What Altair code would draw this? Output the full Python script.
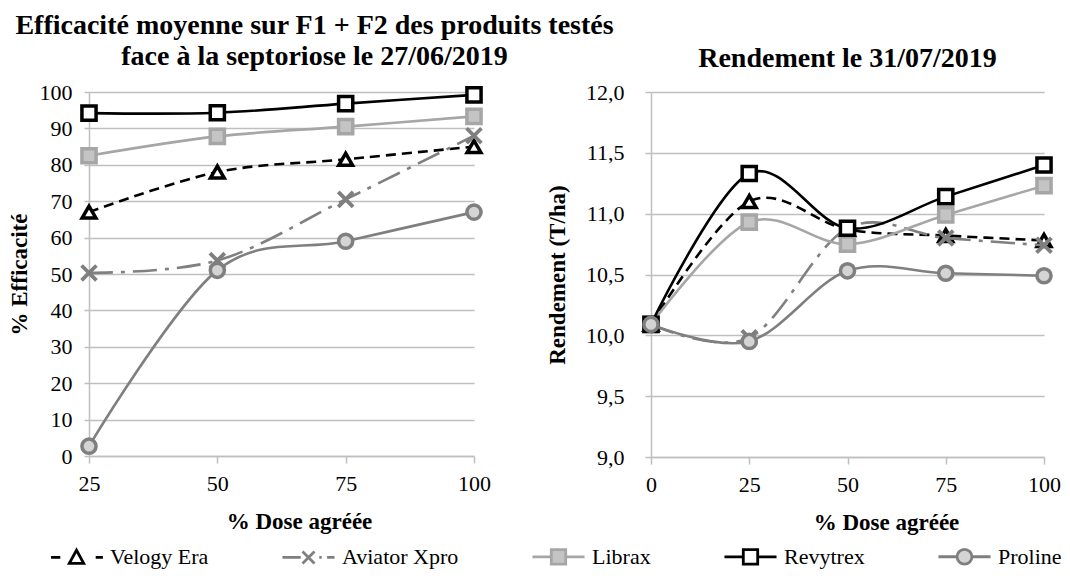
import altair as alt
import pandas as pd

# ---------------- data ----------------
series = ["Velogy Era", "Aviator Xpro", "Librax", "Revytrex", "Proline"]

dose_eff = [25, 50, 75, 100]
eff_velogy = [67.0, 78.0, 81.5, 85.0]
eff_aviator = [50.3, 53.7, 70.5, 88.0]
eff_librax = [82.5, 87.8, 90.5, 93.3]
eff_revytrex = [94.2, 94.3, 96.8, 99.2]
eff_proline = [2.7, 51.0, 59.0, 67.0]

dose_rdt = [0, 25, 50, 75, 100]
rdt_velogy = [10.09, 11.10, 10.87, 10.82, 10.78]
rdt_aviator = [10.09, 9.98, 10.88, 10.80, 10.74]
rdt_librax = [10.09, 10.93, 10.75, 10.99, 11.23]
rdt_revytrex = [10.09, 11.33, 10.88, 11.14, 11.40]
rdt_proline = [10.09, 9.95, 10.53, 10.51, 10.49]

eff_ticks = list(range(0, 101, 10))
rdt_ticks = [9.0, 9.5, 10.0, 10.5, 11.0, 11.5, 12.0]

eff_values = [eff_velogy, eff_aviator, eff_librax, eff_revytrex, eff_proline]
rdt_values = [rdt_velogy, rdt_aviator, rdt_librax, rdt_revytrex, rdt_proline]

df_eff = pd.DataFrame(
    [{"series": s, "dose": d, "value": v}
     for s, vals in zip(series, eff_values) for d, v in zip(dose_eff, vals)]
)
df_rdt = pd.DataFrame(
    [{"series": s, "dose": d, "value": v}
     for s, vals in zip(series, rdt_values) for d, v in zip(dose_rdt, vals)]
)
df_leg = pd.DataFrame({"series": series})

# ---------------- styles ----------------
FONT = "Liberation Serif"
X_PATH = "M-1,-1L1,1M-1,1L1,-1"
styles = {
    "Velogy Era": dict(line="black", dash=[10, 6], shape="triangle-up", fill="white",
                       mstroke="black", msw=3.5, size=190),
    "Aviator Xpro": dict(line="#808080", dash=[24, 8, 4, 8], shape=X_PATH, fill="transparent",
                         mstroke="#7F7F7F", msw=3.8, size=220),
    "Librax": dict(line="#A6A6A6", dash=None, shape="square", fill="#C4C4C4",
                   mstroke="#A6A6A6", msw=3.5, size=200),
    "Revytrex": dict(line="black", dash=None, shape="square", fill="white",
                     mstroke="black", msw=3.5, size=200),
    "Proline": dict(line="#7F7F7F", dash=None, shape="circle", fill="#D4D4D4",
                    mstroke="#7F7F7F", msw=3.5, size=200),
}

# legend symbols: 1 unit = 12 px (symbolSize 576)
leg_paths = [
    "M-2.12,0L-1.35,0M1.6,0L2.2,0M0,-0.6L0.6,0.5L-0.6,0.5Z",
    "M-2.17,0L-0.65,0M0.9,0L1.1,0M1.55,0L2.17,0M-0.5,-0.5L0.5,0.5M-0.5,0.5L0.5,-0.5",
    "M-2.17,0L-0.6,0M0.6,0L2.17,0M-0.6,-0.6L0.6,-0.6L0.6,0.6L-0.6,0.6Z",
    "M-2.17,0L-0.6,0M0.6,0L2.17,0M-0.6,-0.6L0.6,-0.6L0.6,0.6L-0.6,0.6Z",
    "M-2.17,0L-0.62,0M0.62,0L2.17,0M0.62,0A0.62,0.62 0 1,1 -0.62,0A0.62,0.62 0 1,1 0.62,0Z",
]
leg_stroke = ["black", "#7F7F7F", "#A6A6A6", "black", "#7F7F7F"]
leg_fill = ["white", "transparent", "#C4C4C4", "white", "#D4D4D4"]

GRID = "#BFBFBF"


def panel(df, xdomain, xticks, ydomain, yticks, ylabel_expr, ytitle, ytitle_x,
          ylabel_pad, ytick, xtitle_x, width, height, title, with_legend):
    x_enc = alt.X(
        "dose:Q",
        scale=alt.Scale(domain=xdomain, nice=False, zero=False),
        axis=alt.Axis(values=xticks, grid=False, title="% Dose agréée",
                      domainColor=GRID, domainWidth=1.5, tickColor=GRID, tickWidth=1.5,
                      tickSize=7, labelFont=FONT, labelFontSize=22, labelColor="black",
                      labelPadding=10, labelFlush=False,
                      titleFont=FONT, titleFontSize=23, titleFontWeight="bold",
                      titleColor="black", titleX=xtitle_x, titleY=65,
                      titleBaseline="middle", titleAlign="center"),
    )
    y_enc = alt.Y(
        "value:Q",
        scale=alt.Scale(domain=ydomain, nice=False, zero=False),
        axis=alt.Axis(values=yticks, grid=True, gridColor=GRID, gridWidth=1.5,
                      title=ytitle, labelExpr=ylabel_expr,
                      domainColor=GRID, domainWidth=1.5, tickColor=GRID, tickWidth=1.5,
                      tickSize=ytick, labelFont=FONT, labelFontSize=22, labelColor="black",
                      labelPadding=ylabel_pad, labelFlush=False,
                      titleFont=FONT, titleFontSize=23, titleFontWeight="bold",
                      titleColor="black", titleX=ytitle_x, titleY=height / 2,
                      titleAngle=270, titleBaseline="middle", titleAlign="center"),
    )
    base = alt.Chart(df).encode(x=x_enc, y=y_enc)
    layers = []
    for s in series:
        st = styles[s]
        filt = base.transform_filter(alt.datum.series == s)
        line_kw = dict(color=st["line"], strokeWidth=2.6, interpolate="cardinal",
                       strokeCap="butt")
        if st["dash"]:
            line_kw["strokeDash"] = st["dash"]
        layers.append(filt.mark_line(**line_kw))
        layers.append(filt.mark_point(shape=st["shape"], filled=False, fill=st["fill"],
                                      stroke=st["mstroke"], strokeWidth=st["msw"],
                                      size=st["size"], opacity=1))
    if with_legend:
        leg = alt.Legend(orient="none", legendX=-26, legendY=451, direction="horizontal",
                         title=None, symbolSize=576, symbolStrokeWidth=2.8,
                         symbolOpacity=1, labelFont=FONT, labelFontSize=22,
                         labelColor="black", labelOffset=20, columnPadding=67,
                         labelLimit=0, padding=0)
        layers.append(
            alt.Chart(df_leg).mark_point(opacity=0, filled=False).encode(
                x=alt.value(0), y=alt.value(0),
                stroke=alt.Stroke("series:N", scale=alt.Scale(domain=series, range=leg_stroke),
                                  legend=leg, sort=series),
                fill=alt.Fill("series:N", scale=alt.Scale(domain=series, range=leg_fill),
                              legend=leg, sort=series),
                shape=alt.Shape("series:N", scale=alt.Scale(domain=series, range=leg_paths),
                                legend=leg, sort=series),
            )
        )
    return alt.layer(*layers).properties(width=width, height=height, title=title)


left_title = alt.TitleParams(
    ["Efficacité moyenne sur F1 + F2 des produits testés",
     "face à la septoriose le 27/06/2019"],
    font=FONT, fontSize=28, fontWeight="bold", color="black", anchor="middle",
    dx=33, offset=10, lineHeight=31,
)
right_title = alt.TitleParams(
    "Rendement le 31/07/2019",
    font=FONT, fontSize=28, fontWeight="bold", color="black", anchor="middle",
    dx=0, offset=8,
)

left = panel(df_eff, [25, 100], dose_eff, [0, 100], eff_ticks,
             "datum.value", "% Efficacité", -70, 12, 5, 210, 385, 364, left_title, True)
right = panel(df_rdt, [0, 100], dose_rdt, [9, 12], rdt_ticks,
              "replace(format(datum.value, '.1f'), '.', ',')", "Rendement (T/ha)", -94,
              21, 6, 235, 393, 365, right_title, False)

chart = (
    alt.hconcat(left, right, spacing=177, bounds="flush")
    .configure(background="white",
               padding={"top": 3, "left": 0, "right": 0, "bottom": 0})
    .configure_view(stroke=None)
)

chart.save("out.html", embed_options={"renderer": "svg", "actions": False})
